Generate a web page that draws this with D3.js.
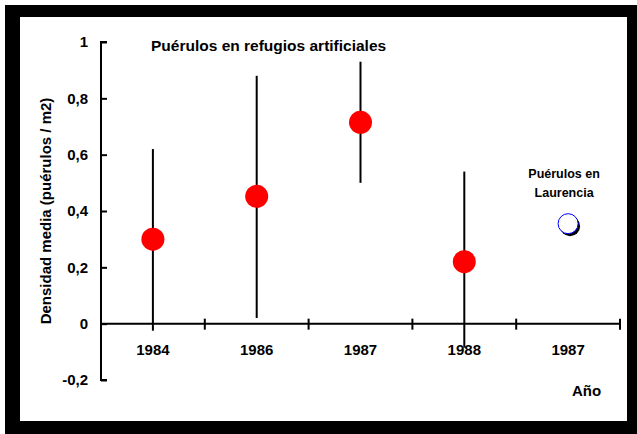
<!DOCTYPE html>
<html>
<head>
<meta charset="utf-8">
<script src="https://cdn.jsdelivr.net/npm/d3@7"></script>
<style>
	body { margin:0; background:#fff; }
	text { font-family: Arial, "Liberation Sans", sans-serif; font-weight:bold; fill:#000; }
</style>
</head>
<body>
<div id="chart"></div>
<script>
// categories on the x axis (one band each)
var years	= ["1984", "1986", "1987", "1988", "1987"];
// refugios artificiales: mean and error bar ends
var means	= [0.30, 0.452, 0.715, 0.22];
var highs	= [0.62, 0.88, 0.93, 0.54];
var lows	= [-0.025, 0.02, 0.50, -0.085];
// Laurencia point (last band)
var laurencia	= [0.355];
var yTicks	= [-0.2, 0, 0.2, 0.4, 0.6, 0.8, 1];

var W = 637, H = 434;
var svg = d3.select('#chart').append('svg').attr('width', W).attr('height', H);

// frame
svg.append('rect').attr('x', 5).attr('y', 5).attr('width', W-5).attr('height', H-5).attr('fill', '#000');
svg.append('rect').attr('x', 20).attr('y', 17).attr('width', 607).attr('height', 404).attr('fill', '#fff');

var x = d3.scaleBand().domain(d3.range(years.length)).range([101, 620]);
var y = d3.scaleLinear().domain([-0.2, 1]).range([380, 42]);
var fmt = function(d) { return d3.format('.1f')(d).replace('\u2212', '-').replace('.', ',').replace(/,0$/, ''); };

// y axis
var gy = svg.append('g').attr('transform', 'translate(101,0)')
	.call(d3.axisRight(y).tickValues(yTicks).tickSize(6).tickFormat(''));
gy.select('.domain').attr('stroke-width', 2).attr('d', 'M6,' + y(-0.2) + 'H0V' + y(1) + 'H6');
gy.selectAll('.tick line').attr('stroke-width', 2);
svg.selectAll('text.ylab').data(yTicks).enter().append('text').attr('class', 'ylab')
	.attr('x', 88).attr('y', function(d){ return y(d); }).attr('dy', '0.35em')
	.attr('text-anchor', 'end').style('font-size', '15px').text(fmt);

// x axis at zero
var bounds = d3.range(years.length + 1).map(function(i){ return 101 + i * x.step(); });
svg.append('line').attr('x1', 101).attr('x2', 620).attr('y1', y(0)).attr('y2', y(0))
	.attr('stroke', '#000').attr('stroke-width', 2);
svg.selectAll('line.xt').data(bounds.slice(1)).enter().append('line').attr('class', 'xt')
	.attr('x1', function(d){ return d; }).attr('x2', function(d){ return d; })
	.attr('y1', y(0) - 5).attr('y2', y(0) + 6).attr('stroke', '#000').attr('stroke-width', 2);
svg.selectAll('text.xlab').data(years).enter().append('text').attr('class', 'xlab')
	.attr('x', function(d, i){ return x(i) + x.bandwidth() / 2; }).attr('y', 355)
	.attr('text-anchor', 'middle').style('font-size', '15px').text(function(d){ return d; });

// error bars + points
var cx = function(d, i){ return x(i) + x.bandwidth() / 2; };
svg.selectAll('line.err').data(means).enter().append('line').attr('class', 'err')
	.attr('x1', cx).attr('x2', cx)
	.attr('y1', function(d, i){ return y(highs[i]); }).attr('y2', function(d, i){ return y(lows[i]); })
	.attr('stroke', '#000').attr('stroke-width', 2);
svg.selectAll('circle.pt').data(means).enter().append('circle').attr('class', 'pt')
	.attr('cx', cx).attr('cy', function(d){ return y(d); }).attr('r', 11.5).attr('fill', '#ff0000');

// Laurencia
var lx = x(years.length - 1) + x.bandwidth() / 2;
svg.append('circle').attr('cx', lx + 2).attr('cy', y(laurencia[0]) + 2.5).attr('r', 10).attr('fill', '#000');
svg.append('circle').attr('cx', lx).attr('cy', y(laurencia[0])).attr('r', 10)
	.attr('fill', '#fff').attr('stroke', '#0000ff').attr('stroke-width', 1);
svg.append('text').attr('x', lx - 4).attr('y', 178).attr('text-anchor', 'middle').style('font-size', '12.5px').text('Puérulos en');
svg.append('text').attr('x', lx - 4).attr('y', 197).attr('text-anchor', 'middle').style('font-size', '12.5px').text('Laurencia');

// titles
svg.append('text').attr('x', 151).attr('y', 51).style('font-size', '15.5px').text('Puérulos en refugios artificiales');
svg.append('text').attr('x', 572).attr('y', 396).style('font-size', '15px').text('Año');
svg.append('text').attr('transform', 'translate(51,211) rotate(-90)').attr('text-anchor', 'middle')
	.style('font-size', '15px').text('Densidad media (puérulos / m2)');
</script>
</body>
</html>
